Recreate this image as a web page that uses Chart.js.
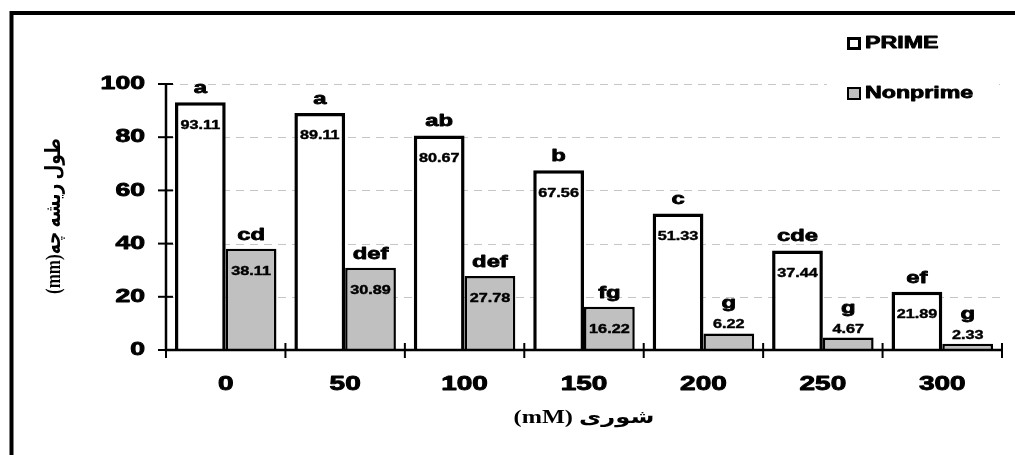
<!DOCTYPE html>
<html>
<head>
<meta charset="utf-8">
<script src="https://cdn.jsdelivr.net/npm/chart.js@4.4.0/dist/chart.umd.min.js"></script>
<style>
  html, body { margin: 0; padding: 0; background: #fff; }
</style>
</head>
<body>
<canvas id="chart" width="1015" height="455"></canvas>
<script>
// data
const categories = ["0", "50", "100", "150", "200", "250", "300"];
const primeValues = [93.11, 89.11, 80.67, 67.56, 51.33, 37.44, 21.89];
const nonprimeValues = [38.11, 30.89, 27.78, 16.22, 6.22, 4.67, 2.33];
const primeLetters = ["a", "a", "ab", "b", "c", "cde", "ef"];
const nonprimeLetters = ["cd", "def", "def", "fg", "g", "g", "g"];
const yTicks = [0, 20, 40, 60, 80, 100];
const seriesNames = ["PRIME", "Nonprime"];
const xTitle = "شوری (mM)";
const yTitle = "طول ریشه چه(mm)";

const GRAY = "#c0c0c0";
const SANS = "'Liberation Sans', Arial, sans-serif";
const SERIF = "'Liberation Serif', 'DejaVu Serif', 'DejaVu Sans', serif";

// the source image is stretched sideways, so text is drawn wider and heavier
function wideText(ctx, text, x, y, font, align, baseline, sx, weight) {
	ctx.save();
	ctx.font = font;
	ctx.textAlign = align;
	ctx.textBaseline = baseline;
	ctx.translate(x, y);
	ctx.scale(sx, 1);
	ctx.fillStyle = "#000";
	ctx.fillText(text, 0, 0);
	if (weight) {
		ctx.strokeStyle = "#000";
		ctx.lineWidth = weight;
		ctx.lineJoin = "round";
		ctx.strokeText(text, 0, 0);
	}
	ctx.restore();
}

const decorations = {
	id: "decorations",
	beforeDatasetsDraw(chart) {
		const { ctx, chartArea, scales: { y } } = chart;
		// faint dashed gridlines
		ctx.save();
		ctx.strokeStyle = "#c6c6c6";
		ctx.lineWidth = 1;
		ctx.setLineDash([8, 6]);
		yTicks.forEach((v) => {
			if (v === 0) return;
			const py = Math.round(y.getPixelForValue(v)) + 0.5;
			ctx.beginPath();
			ctx.moveTo(chartArea.left, py);
			ctx.lineTo(chartArea.right, py);
			ctx.stroke();
		});
		ctx.restore();
	},
	afterDraw(chart) {
		const { ctx, chartArea, scales: { x, y } } = chart;
		const left = chartArea.left, bottom = y.getPixelForValue(0);

		// legend box covers the gridlines behind it
		ctx.save();
		ctx.fillStyle = "#fff";
		ctx.fillRect(827, 24, 172, 94);
		ctx.restore();

		// axes
		ctx.save();
		ctx.strokeStyle = "#000";
		ctx.lineWidth = 2.5;
		ctx.beginPath();
		ctx.moveTo(left, y.getPixelForValue(100) - 1);
		ctx.lineTo(left, bottom);
		ctx.lineTo(chartArea.right + 1, bottom);
		ctx.stroke();

		// y ticks crossing the axis
		ctx.lineWidth = 2;
		yTicks.forEach((v) => {
			const py = y.getPixelForValue(v);
			ctx.beginPath();
			ctx.moveTo(left - 8, py);
			ctx.lineTo(left + 7, py);
			ctx.stroke();
			wideText(ctx, String(v), left - 21, py, "bold 19px " + SANS, "right", "middle", 1.4, 0.9);
		});

		// x ticks at the category boundaries
		const half = (x.getPixelForValue(1) - x.getPixelForValue(0)) / 2;
		for (let i = 0; i <= categories.length; i++) {
			const px = x.getPixelForValue(i) - half;
			ctx.beginPath();
			ctx.moveTo(px, bottom - 7);
			ctx.lineTo(px, bottom + 8);
			ctx.stroke();
		}
		ctx.restore();

		categories.forEach((c, i) => {
			wideText(ctx, c, x.getPixelForValue(i), bottom + 34, "bold 20px " + SANS, "center", "middle", 1.4, 0.9);
		});

		// value labels and significance letters
		const sets = [
			{ meta: chart.getDatasetMeta(0), values: primeValues, letters: primeLetters },
			{ meta: chart.getDatasetMeta(1), values: nonprimeValues, letters: nonprimeLetters }
		];
		sets.forEach((s) => {
			s.meta.data.forEach((bar, i) => {
				const v = s.values[i];
				const top = bar.y;
				if (v < 10) {
					wideText(ctx, v.toFixed(2), bar.x, top - 5, "bold 12px " + SANS, "center", "alphabetic", 1.35, 0.4);
					wideText(ctx, s.letters[i], bar.x, top - 25, "bold 17px " + SANS, "center", "alphabetic", 1.4, 0.8);
				} else {
					wideText(ctx, v.toFixed(2), bar.x, top + 23, "bold 12px " + SANS, "center", "middle", 1.35, 0.4);
					wideText(ctx, s.letters[i], bar.x, top - 9, "bold 17px " + SANS, "center", "alphabetic", 1.4, 0.8);
				}
			});
		});

		// legend
		ctx.save();
		ctx.strokeStyle = "#000";
		ctx.lineWidth = 3;
		ctx.fillStyle = "#fff";
		ctx.fillRect(848.5, 38.5, 11, 10);
		ctx.strokeRect(848.5, 38.5, 11, 10);
		ctx.lineWidth = 2;
		ctx.fillStyle = GRAY;
		ctx.fillRect(848, 88, 12, 11);
		ctx.strokeRect(848, 88, 12, 11);
		ctx.restore();
		wideText(ctx, seriesNames[0], 865, 44, "bold 16px " + SANS, "left", "middle", 1.45, 0.8);
		wideText(ctx, seriesNames[1], 865, 94, "bold 16px " + SANS, "left", "middle", 1.45, 0.8);

		// axis titles (right-to-left text)
		ctx.save();
		ctx.direction = "rtl";
		ctx.font = "bold 18px " + SERIF;
		ctx.textAlign = "center";
		ctx.textBaseline = "middle";
		ctx.fillStyle = "#000";
		ctx.translate((chartArea.left + chartArea.right) / 2, 418);
		ctx.scale(1.35, 1);
		ctx.fillText(xTitle, 0, 0);
		ctx.restore();

		ctx.save();
		ctx.direction = "rtl";
		ctx.font = "bold 17px " + SERIF;
		ctx.textAlign = "center";
		ctx.textBaseline = "middle";
		ctx.fillStyle = "#000";
		ctx.translate(55, 216);
		ctx.rotate(-Math.PI / 2);
		ctx.scale(1, 1.25);
		ctx.fillText(yTitle, 0, 0);
		ctx.restore();

		// outer frame
		ctx.save();
		ctx.strokeStyle = "#000";
		ctx.lineWidth = 4;
		ctx.strokeRect(11.5, 13, 1100, 1000);
		ctx.restore();
	}
};

new Chart(document.getElementById("chart"), {
	type: "bar",
	data: {
		labels: categories,
		datasets: [
			{
				label: seriesNames[0],
				data: primeValues,
				backgroundColor: "#fff",
				borderColor: "#000",
				borderWidth: 3.5
			},
			{
				label: seriesNames[1],
				data: nonprimeValues,
				backgroundColor: GRAY,
				borderColor: "#000",
				borderWidth: 2.5
			}
		]
	},
	options: {
		responsive: false,
		animation: false,
		devicePixelRatio: 1,
		categoryPercentage: 0.85,
		barPercentage: 1.0,
		layout: { padding: { left: 166, right: 13, top: 84, bottom: 105 } },
		plugins: { legend: { display: false }, tooltip: { enabled: false } },
		scales: {
			x: {
				ticks: { display: false },
				grid: { display: false },
				border: { display: false },
				afterFit: (s) => { s.height = 0; }
			},
			y: {
				min: 0,
				max: 100,
				ticks: { display: false, stepSize: 20 },
				grid: { display: false },
				border: { display: false },
				afterFit: (s) => { s.width = 0; }
			}
		}
	},
	plugins: [decorations]
});
</script>
</body>
</html>
